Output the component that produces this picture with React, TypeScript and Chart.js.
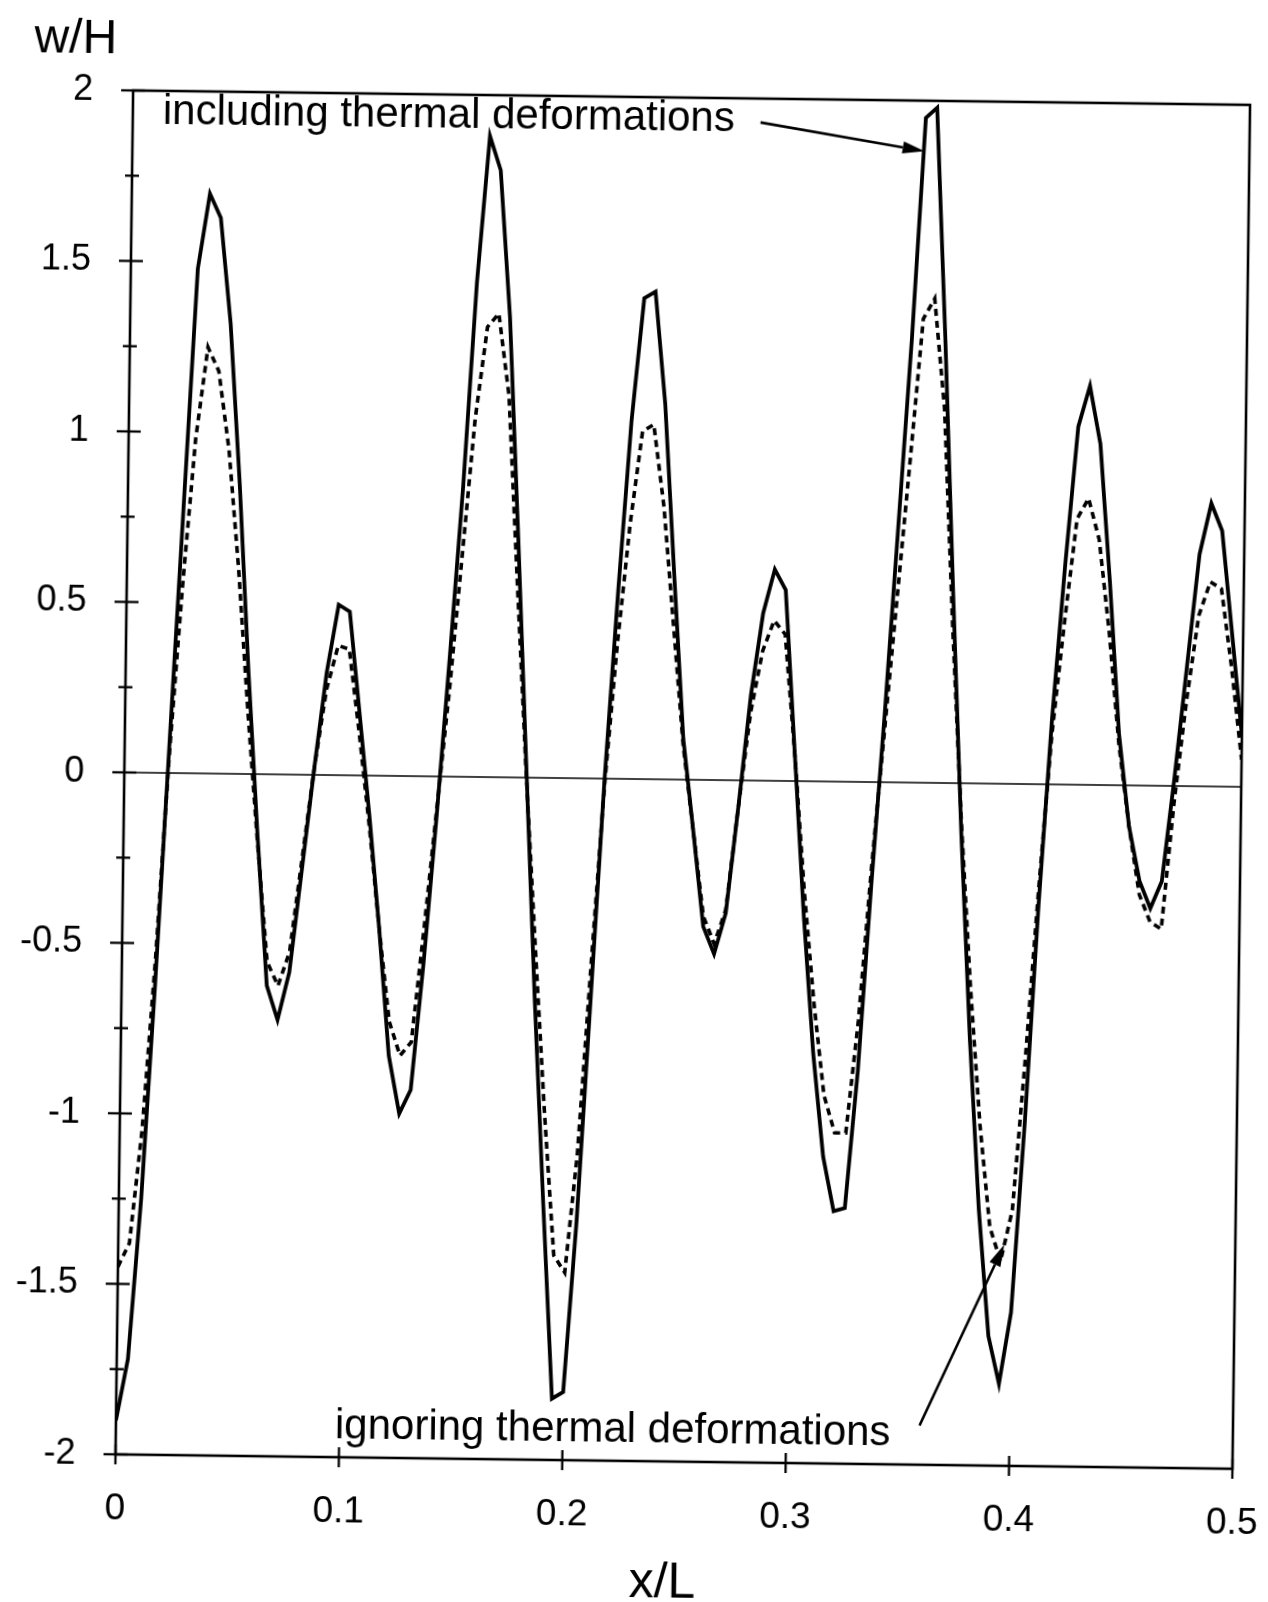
import React, { useEffect, useRef } from "react";
import { Chart, registerables } from "chart.js";

Chart.register(...registerables);

// x/L sample positions
const xPositions = [
  0.0, 0.005, 0.01, 0.015, 0.02, 0.025, 0.03, 0.035, 0.04, 0.045,
  0.05, 0.055, 0.06, 0.065, 0.07, 0.075, 0.08, 0.085, 0.09, 0.095,
  0.1, 0.105, 0.11, 0.115, 0.12, 0.125, 0.13, 0.135, 0.14, 0.145,
  0.15, 0.155, 0.16, 0.165, 0.17, 0.175, 0.18, 0.185, 0.19, 0.195,
  0.2, 0.205, 0.21, 0.215, 0.22, 0.225, 0.23, 0.235, 0.24, 0.245,
  0.25, 0.255, 0.26, 0.265, 0.27, 0.275, 0.28, 0.285, 0.29, 0.295,
  0.3, 0.305, 0.31, 0.315, 0.32, 0.325, 0.33, 0.335, 0.34, 0.345,
  0.35, 0.355, 0.36, 0.365, 0.37, 0.375, 0.38, 0.385, 0.39, 0.395,
  0.4, 0.405, 0.41, 0.415, 0.42, 0.425, 0.43, 0.435, 0.44, 0.445,
  0.45, 0.455, 0.46, 0.465, 0.47, 0.475, 0.48, 0.485, 0.49, 0.495,
  0.5,
];

// w/H including thermal deformations (solid)
const includingThermal = [
  -1.9, -1.72, -1.25, -0.62, 0.08, 0.78, 1.48, 1.7, 1.63, 1.32,
  0.85, 0.3, -0.18, -0.62, -0.72, -0.58, -0.28, 0.02, 0.3, 0.5,
  0.48, 0.18, -0.12, -0.45, -0.82, -0.99, -0.92, -0.55, -0.12, 0.35,
  0.85, 1.45, 1.88, 1.78, 1.35, 0.7, 0.02, -0.65, -1.25, -1.82,
  -1.8, -1.3, -0.65, 0.0, 0.55, 1.05, 1.41, 1.43, 1.1, 0.6,
  0.12, -0.15, -0.43, -0.51, -0.39, -0.08, 0.25, 0.49, 0.62, 0.56,
  0.08, -0.4, -0.8, -1.1, -1.26, -1.25, -0.85, -0.3, 0.2, 0.75,
  1.3, 1.95, 1.98, 1.3, 0.55, -0.15, -0.75, -1.25, -1.62, -1.76,
  -1.55, -1.0, -0.35, 0.2, 0.65, 1.05, 1.17, 1.0, 0.6, 0.15,
  -0.12, -0.28, -0.36, -0.28, 0.02, 0.35, 0.68, 0.83, 0.75, 0.45,
  0.15,
];

// w/H ignoring thermal deformations (dashed)
const ignoringThermal = [
  -1.45, -1.38, -1.05, -0.55, 0.05, 0.55, 0.98, 1.25, 1.18, 0.95,
  0.6, 0.18, -0.2, -0.55, -0.62, -0.52, -0.25, 0.02, 0.25, 0.38,
  0.37, 0.12, -0.15, -0.45, -0.72, -0.82, -0.78, -0.45, -0.1, 0.25,
  0.65, 1.05, 1.32, 1.36, 1.12, 0.55, 0.0, -0.5, -0.98, -1.4,
  -1.45, -1.1, -0.55, -0.02, 0.4, 0.75, 1.02, 1.04, 0.8, 0.45,
  0.1, -0.15, -0.4, -0.48, -0.38, -0.08, 0.2, 0.38, 0.47, 0.43,
  0.08, -0.32, -0.65, -0.92, -1.03, -1.03, -0.7, -0.25, 0.15, 0.55,
  0.95, 1.36, 1.42, 1.1, 0.45, -0.12, -0.6, -1.0, -1.3, -1.4,
  -1.25, -0.8, -0.3, 0.15, 0.48, 0.78, 0.84, 0.72, 0.45, 0.12,
  -0.12, -0.32, -0.4, -0.42, -0.05, 0.25, 0.5, 0.6, 0.58, 0.35,
  0.08,
];

const xTickMarks = [0, 0.1, 0.2, 0.3, 0.4, 0.5];
const yTickMarks = [
  -2, -1.75, -1.5, -1.25, -1, -0.75, -0.5, -0.25, 0,
  0.25, 0.5, 0.75, 1, 1.25, 1.5, 1.75, 2,
];

const yAxisLabel = "w/H";
const xAxisLabel = "x/L";
const topNote = "including thermal deformations";
const bottomNote = "ignoring thermal deformations";
// arrow anchor points in data units: [startX, startY, tipX, tipY]
const topArrow = [0.281, 1.93, 0.3546, 1.852];
const bottomArrow = [0.3597, -1.885, 0.3966, -1.351];

const FONT = '"Liberation Sans", Arial, Helvetica, sans-serif';

function drawArrow(ctx: CanvasRenderingContext2D, x1: number, y1: number, x2: number, y2: number) {
  const ang = Math.atan2(y2 - y1, x2 - x1);
  const len = 22;
  const hw = 6;
  const bx = x2 - len * Math.cos(ang);
  const by = y2 - len * Math.sin(ang);
  ctx.beginPath();
  ctx.moveTo(x1, y1);
  ctx.lineTo(bx, by);
  ctx.lineWidth = 2.6;
  ctx.stroke();
  ctx.beginPath();
  ctx.moveTo(x2, y2);
  ctx.lineTo(bx + hw * Math.sin(ang), by - hw * Math.cos(ang));
  ctx.lineTo(bx - hw * Math.sin(ang), by + hw * Math.cos(ang));
  ctx.closePath();
  ctx.fill();
}

const scanPlugin = {
  id: "scanDecor",
  afterDraw(chart: any) {
    const { ctx, chartArea: a, scales } = chart;
    const xs = scales.x;
    const ys = scales.y;
    ctx.save();
    ctx.strokeStyle = "#000";
    ctx.fillStyle = "#000";
    ctx.lineCap = "butt";

    // frame
    ctx.lineWidth = 2.6;
    ctx.strokeRect(a.left, a.top, a.right - a.left, a.bottom - a.top);

    // zero line
    ctx.lineWidth = 1.7;
    const y0 = ys.getPixelForValue(0);
    ctx.beginPath();
    ctx.moveTo(a.left, y0);
    ctx.lineTo(a.right, y0);
    ctx.stroke();

    // y ticks crossing the left axis
    ctx.lineWidth = 2.3;
    yTickMarks.forEach((v) => {
      const py = ys.getPixelForValue(v);
      const major = Math.abs(v * 2 - Math.round(v * 2)) < 1e-6;
      const h = major ? 12 : 7;
      ctx.beginPath();
      ctx.moveTo(a.left - h, py);
      ctx.lineTo(a.left + h, py);
      ctx.stroke();
    });

    // x ticks crossing the bottom axis
    xTickMarks.forEach((v) => {
      const px = xs.getPixelForValue(v);
      ctx.beginPath();
      ctx.moveTo(px, a.bottom - 10);
      ctx.lineTo(px, a.bottom + 10);
      ctx.stroke();
    });

    // axis names
    ctx.textAlign = "center";
    ctx.textBaseline = "alphabetic";
    ctx.font = `48px ${FONT}`;
    ctx.fillText(yAxisLabel, 66, 60);
    ctx.font = `50px ${FONT}`;
    ctx.fillText(xAxisLabel, 672, 1597);

    // notes
    ctx.textAlign = "left";
    ctx.font = `42px ${FONT}`;
    ctx.fillText(topNote, 154, 130);
    ctx.fillText(bottomNote, 343, 1442);

    // arrows
    drawArrow(
      ctx,
      xs.getPixelForValue(topArrow[0]), ys.getPixelForValue(topArrow[1]),
      xs.getPixelForValue(topArrow[2]), ys.getPixelForValue(topArrow[3])
    );
    drawArrow(
      ctx,
      xs.getPixelForValue(bottomArrow[0]), ys.getPixelForValue(bottomArrow[1]),
      xs.getPixelForValue(bottomArrow[2]), ys.getPixelForValue(bottomArrow[3])
    );
    ctx.restore();
  },
};

export default function App() {
  const canvasRef = useRef<HTMLCanvasElement | null>(null);

  useEffect(() => {
    const canvas = canvasRef.current;
    if (!canvas) return;
    const chart = new Chart(canvas, {
      type: "line",
      data: {
        datasets: [
          {
            label: bottomNote,
            data: xPositions.map((x, i) => ({ x, y: ignoringThermal[i] })),
            borderColor: "#000",
            borderWidth: 3.6,
            borderDash: [7, 5],
            pointRadius: 0,
            tension: 0,
            fill: false,
          },
          {
            label: topNote,
            data: xPositions.map((x, i) => ({ x, y: includingThermal[i] })),
            borderColor: "#000",
            borderWidth: 3.8,
            pointRadius: 0,
            tension: 0,
            fill: false,
          },
        ],
      },
      options: {
        animation: false,
        responsive: false,
        devicePixelRatio: 1,
        layout: { padding: { top: 97, right: 27, left: 0, bottom: 0 } },
        plugins: {
          legend: { display: false },
          tooltip: { enabled: false },
        },
        scales: {
          x: {
            type: "linear",
            min: 0,
            max: 0.5,
            afterFit: (s: any) => {
              s.height = 141;
              s.paddingLeft = 0;
              s.paddingRight = 0;
            },
            grid: { display: false, drawTicks: false },
            border: { display: false },
            ticks: {
              stepSize: 0.1,
              autoSkip: false,
              maxRotation: 0,
              padding: 33,
              color: "#000",
              font: { family: FONT, size: 37 },
            },
          },
          y: {
            type: "linear",
            min: -2,
            max: 2,
            afterFit: (s: any) => {
              s.width = 124;
              s.paddingTop = 0;
              s.paddingBottom = 0;
            },
            grid: { display: false, drawTicks: false },
            border: { display: false },
            ticks: {
              stepSize: 0.5,
              padding: 40,
              color: "#000",
              font: { family: FONT, size: 36 },
              callback: (v: any) => String(Number(v)),
            },
          },
        },
      },
      plugins: [scanPlugin],
    });
    return () => chart.destroy();
  }, []);

  return (
    <div
      style={{
        position: "fixed",
        left: 0,
        top: 0,
        width: 1268,
        height: 1602,
        overflow: "hidden",
        background: "#fff",
      }}
    >
      <canvas
        ref={canvasRef}
        width={1268}
        height={1602}
        style={{
          display: "block",
          width: 1268,
          height: 1602,
          transform: "rotate(0.74deg)",
          transformOrigin: "634px 801px",
        }}
      />
    </div>
  );
}
